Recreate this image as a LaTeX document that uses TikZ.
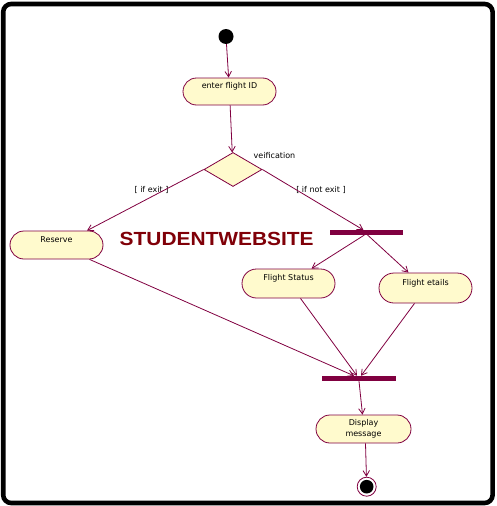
\documentclass[tikz,border=0pt]{standalone}
\usepackage{fontspec}
\setmainfont{DejaVu Sans}
\newfontfamily\titlefont{Liberation Sans}
\usepackage{tikz}
\usetikzlibrary{shapes,arrows.meta,positioning,calc}
\definecolor{actfill}{RGB}{255,250,205}
\definecolor{flowline}{RGB}{128,0,64}
\definecolor{titlered}{RGB}{128,0,8}

\tikzset{
    actshape/.style={rounded rectangle,draw=flowline,line width=0.8pt,fill=actfill,minimum width=93pt,minimum height=28pt,
        inner sep=0pt,font=\fontsize{8}{10.5}\selectfont},
    activity/.style={actshape,text height=6pt,text depth=12pt},
    syncbar/.style={rectangle,fill=flowline,minimum width=73pt,minimum height=4.5pt,inner sep=0pt},
    flow/.style={draw=flowline,line width=0.8pt,-{Straight Barb[length=5.5pt,width=6.5pt]}},
    guard/.style={font=\fontsize{8}{9.5}\selectfont,inner sep=0pt}
}

\begin{document}
\begin{tikzpicture}[x=1pt,y=-1pt]
    \useasboundingbox (0,0) rectangle (496,506);
    % frame
    \draw[line width=4.6pt,rounded corners=8pt] (3.2,4) rectangle (492.6,503);

    % states and activities
    \node[circle,fill=black,minimum size=15pt,inner sep=0pt] (start) at (226,36.5) {};
    \node[activity,minimum height=27pt] (enter) at (229.5,91.5) {enter flight ID};
    \node[diamond,draw=flowline,line width=0.8pt,fill=actfill,minimum width=58pt,minimum height=34pt,inner sep=0pt] (verify) at (233,169.5) {};
    \node[activity] (reserve) at (56.5,245) {Reserve};
    \node[syncbar] (fork) at (366.5,232.5) {};
    \node[activity,minimum height=29pt] (status) at (288.5,283.5) {Flight Status};
    \node[activity,minimum height=30pt] (details) at (425.5,288) {Flight etails};
    \node[syncbar,minimum width=74pt,minimum height=5pt] (join) at (359,378.5) {};
    \node[actshape,minimum width=95pt,align=center] (display) at (363.5,429) {Display\\message};
    \node[circle,draw=flowline,line width=0.8pt,fill=white,minimum size=19pt,inner sep=0pt] (end) at (366.7,486.7) {};
    \fill (end.center) circle (6.8pt);

    % labels
    \node[guard] (verifylabel) at (274.5,156) {veification};
    \node[guard] (exitlabel) at (151.5,190) {[ if exit ]};
    \node[guard] (notexitlabel) at (321,190) {[ if not exit ]};
    \node[text=titlered,font=\titlefont\bfseries\fontsize{19}{19}\selectfont,inner sep=0pt] (title) at (216.7,239.2) {\scalebox{1.1}[1]{STUDENTWEBSITE}};

    % transitions
    \draw[flow] (start) -- (enter);
    \draw[flow] (enter) -- (verify);
    \draw[flow] (verify.west) -- ([xshift=30.5pt]reserve.north);
    \draw[flow] (verify.east) -- ([xshift=-3pt]fork.north);
    \draw[flow] ([xshift=-2pt]fork.south) -- ([xshift=23pt]status.north);
    \draw[flow] ([xshift=1pt]fork.south) -- ([xshift=-17pt]details.north);
    \draw[flow] ([xshift=33pt]reserve.south) -- ([xshift=-5pt]join.north);
    \draw[flow] ([xshift=12pt]status.south) -- ([xshift=-2pt]join.north);
    \draw[flow] ([xshift=-11pt]details.south) -- ([xshift=2pt]join.north);
    \draw[flow] (join.south) -- ([xshift=-1pt]display.north);
    \draw[flow] ([xshift=2pt]display.south) -- (end);
\end{tikzpicture}
\end{document}
